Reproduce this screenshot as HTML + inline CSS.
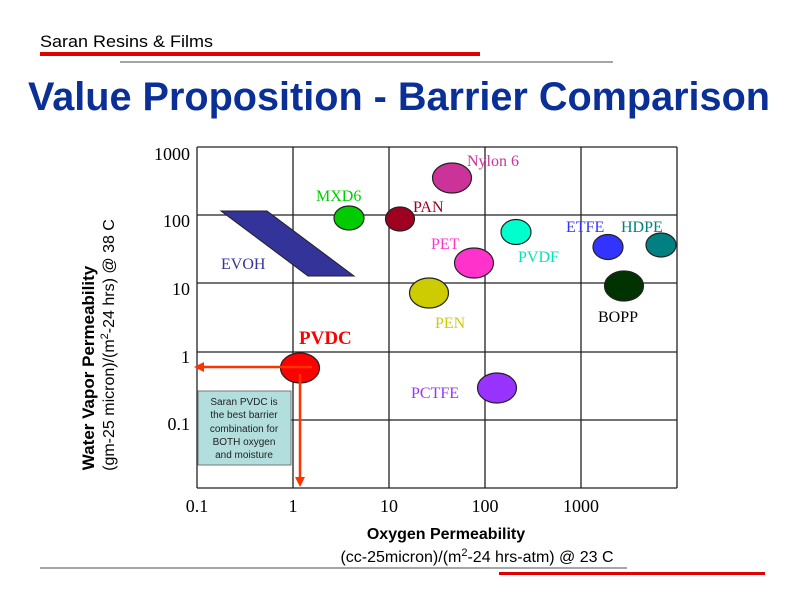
<!DOCTYPE html>
<html><head><meta charset="utf-8"><style>html,body{margin:0;padding:0;background:#fff}svg{display:block}</style></head>
<body>
<svg width="800" height="600" viewBox="0 0 800 600" xmlns="http://www.w3.org/2000/svg">
<rect width="800" height="600" fill="#fff"/>
<text x="40" y="47" font-family="Liberation Sans, sans-serif" font-size="17" fill="#000" textLength="173" lengthAdjust="spacingAndGlyphs">Saran Resins &amp; Films</text>
<rect x="40" y="52" width="440" height="4" fill="#e00000"/>
<line x1="120" y1="62" x2="613" y2="62" stroke="#888" stroke-width="1.5"/>
<text x="28" y="110" font-family="Liberation Sans, sans-serif" font-weight="bold" font-size="40" fill="#0a2f96" textLength="742" lengthAdjust="spacingAndGlyphs">Value Proposition - Barrier Comparison</text>

<g stroke="#222" stroke-width="1.3">
<line x1="197" y1="147" x2="677" y2="147"/>
<line x1="197" y1="215" x2="677" y2="215"/>
<line x1="197" y1="283" x2="677" y2="283"/>
<line x1="197" y1="352" x2="677" y2="352"/>
<line x1="197" y1="420" x2="677" y2="420"/>
<line x1="197" y1="488" x2="677" y2="488"/>
<line x1="197" y1="147" x2="197" y2="488"/>
<line x1="293" y1="147" x2="293" y2="488"/>
<line x1="389" y1="147" x2="389" y2="488"/>
<line x1="485" y1="147" x2="485" y2="488"/>
<line x1="581" y1="147" x2="581" y2="488"/>
<line x1="677" y1="147" x2="677" y2="488"/>
</g>

<g font-family="Liberation Serif, serif" font-size="18" fill="#000" text-anchor="end">
<text x="190" y="160">1000</text>
<text x="190" y="227">100</text>
<text x="190" y="295">10</text>
<text x="190" y="363">1</text>
<text x="190" y="430">0.1</text>
</g>
<g font-family="Liberation Serif, serif" font-size="18" fill="#000" text-anchor="middle">
<text x="197" y="512">0.1</text>
<text x="293" y="512">1</text>
<text x="389" y="512">10</text>
<text x="485" y="512">100</text>
<text x="581" y="512">1000</text>
</g>

<polygon points="221,211 267,211 354,276 308,276" fill="#333399" stroke="#222" stroke-width="1"/>
<g stroke="#222" stroke-width="1.2">
<ellipse cx="452" cy="178" rx="19.5" ry="15" fill="#cc3399"/>
<ellipse cx="349" cy="218" rx="15" ry="12" fill="#00cc00"/>
<ellipse cx="400" cy="219" rx="14.5" ry="12" fill="#a00020"/>
<ellipse cx="516" cy="232" rx="15" ry="12.5" fill="#00ffcc"/>
<ellipse cx="608" cy="247" rx="15" ry="12.5" fill="#3333ff"/>
<ellipse cx="661" cy="245" rx="15" ry="12" fill="#008080"/>
<ellipse cx="474" cy="263" rx="19.5" ry="15" fill="#ff33cc"/>
<ellipse cx="624" cy="286" rx="19.5" ry="15" fill="#003300"/>
<ellipse cx="429" cy="293" rx="19.5" ry="15" fill="#cccc00"/>
<ellipse cx="300" cy="368" rx="19.5" ry="15" fill="#ff0000"/>
<ellipse cx="497" cy="388" rx="19.5" ry="15" fill="#9933ff"/>
</g>

<g font-family="Liberation Serif, serif" font-size="16">
<text x="467" y="166" fill="#cc3399">Nylon 6</text>
<text x="316" y="201" fill="#00cc00">MXD6</text>
<text x="413" y="212" fill="#a00020">PAN</text>
<text x="566" y="232" fill="#3333ff">ETFE</text>
<text x="621" y="232" fill="#008080">HDPE</text>
<text x="431" y="249" fill="#ff33cc">PET</text>
<text x="518" y="262" fill="#00e6b8">PVDF</text>
<text x="221" y="269" fill="#333399">EVOH</text>
<text x="435" y="328" fill="#cccc00">PEN</text>
<text x="598" y="322" fill="#000">BOPP</text>
<text x="411" y="398" fill="#9933ff">PCTFE</text>
<text x="299" y="344" fill="#ff0000" font-weight="bold" font-size="19">PVDC</text>
</g>

<g stroke="#ff3300" stroke-width="2.5" fill="#ff3300">
<line x1="312" y1="367" x2="202" y2="367"/>
<polygon points="194,367 204,362 204,372" stroke="none"/>
<line x1="300" y1="374" x2="300" y2="478"/>
<polygon points="300,487 295,477 305,477" stroke="none"/>
</g>

<rect x="198" y="391" width="93" height="74" fill="#b3dede" stroke="#777" stroke-width="1"/>
<g font-family="Liberation Sans, sans-serif" font-size="10" fill="#222" text-anchor="middle">
<text x="244" y="405">Saran PVDC is</text>
<text x="244" y="418">the best barrier</text>
<text x="244" y="432">combination for</text>
<text x="244" y="445">BOTH oxygen</text>
<text x="244" y="458">and moisture</text>
</g>

<g font-family="Liberation Sans, sans-serif" font-size="16" fill="#000" text-anchor="middle">
<text transform="translate(94,368) rotate(-90)" font-weight="bold" font-size="17">Water Vapor Permeability</text>
<text transform="translate(114,345) rotate(-90)">(gm-25 micron)/(m<tspan font-size="11" dy="-6">2</tspan><tspan dy="6">-24 hrs) @ 38 C</tspan></text>
<text x="446" y="539" font-weight="bold">Oxygen Permeability</text>
<text x="477" y="562">(cc-25micron)/(m<tspan font-size="11" dy="-6">2</tspan><tspan dy="6">-24 hrs-atm) @ 23 C</tspan></text>
</g>

<line x1="40" y1="568" x2="627" y2="568" stroke="#888" stroke-width="1.5"/>
<rect x="499" y="572" width="266" height="3" fill="#e00000"/>
</svg>
</body></html>
